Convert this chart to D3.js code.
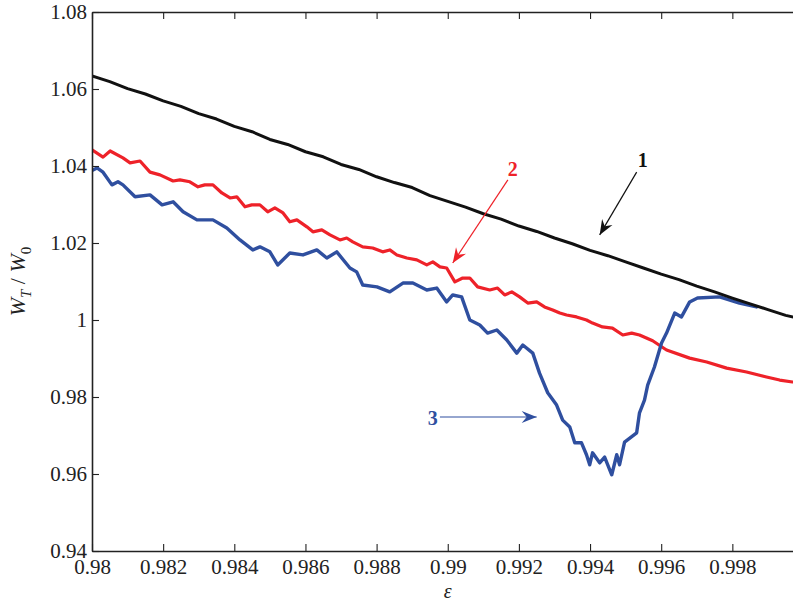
<!DOCTYPE html>
<html>
<head>
<meta charset="utf-8">
<script src="https://cdn.jsdelivr.net/npm/d3@7"></script>
<style>
  body { margin: 0; background: #fff; }
  svg { display: block; }
</style>
</head>
<body>
<svg id="chart" width="793" height="602"></svg>
<script>
// curve 1 (black), [eps, W_T/W_0]
const curve1 = [
  [0.9800, 1.0634], [0.9805, 1.0619], [0.9810, 1.0601], [0.9815, 1.0587],
  [0.9820, 1.0569], [0.9825, 1.0555], [0.9830, 1.0536], [0.9835, 1.0522],
  [0.9840, 1.0503], [0.9845, 1.0489], [0.9850, 1.0469], [0.9855, 1.0456],
  [0.9860, 1.0437], [0.9865, 1.0424], [0.9870, 1.0404], [0.9875, 1.0391],
  [0.9880, 1.0372], [0.9885, 1.0357], [0.9890, 1.0344], [0.9895, 1.0323],
  [0.9900, 1.0308], [0.9905, 1.0293], [0.9910, 1.0276], [0.9915, 1.0262],
  [0.9920, 1.0244], [0.9925, 1.0230], [0.9930, 1.0213], [0.9935, 1.0198],
  [0.9940, 1.0181], [0.9945, 1.0167], [0.9950, 1.0151], [0.9955, 1.0135],
  [0.9960, 1.0119], [0.9965, 1.0105], [0.9970, 1.0088], [0.9975, 1.0073],
  [0.9980, 1.0057], [0.9985, 1.0042], [0.9990, 1.0027], [0.9995, 1.0012],
  [0.9998, 1.0006]
];

// curve 2 (red)
const curve2 = [
  [0.98000, 1.0442], [0.98031, 1.0423], [0.98051, 1.0439], [0.98087, 1.0421],
  [0.98107, 1.0408], [0.98135, 1.0413], [0.98163, 1.0384], [0.98191, 1.0377],
  [0.98228, 1.0361], [0.98247, 1.0364], [0.98275, 1.0359], [0.98298, 1.0346],
  [0.98317, 1.0351], [0.98340, 1.0351], [0.98365, 1.0330], [0.98388, 1.0317],
  [0.98407, 1.0320], [0.98430, 1.0294], [0.98449, 1.0299], [0.98472, 1.0299],
  [0.98494, 1.0281], [0.98514, 1.0291], [0.98537, 1.0278], [0.98556, 1.0255],
  [0.98576, 1.0260], [0.98604, 1.0242], [0.98621, 1.0229], [0.98646, 1.0234],
  [0.98669, 1.0221], [0.98697, 1.0208], [0.98716, 1.0213], [0.98733, 1.0203],
  [0.98761, 1.0190], [0.98789, 1.0187], [0.98817, 1.0177], [0.98837, 1.0182],
  [0.98857, 1.0169], [0.98885, 1.0161], [0.98913, 1.0156], [0.98941, 1.0143],
  [0.98958, 1.0151], [0.98978, 1.0138], [0.98997, 1.0135], [0.99020, 1.0099],
  [0.99042, 1.0109], [0.99062, 1.0109], [0.99084, 1.0086], [0.99118, 1.0078],
  [0.99140, 1.0083], [0.99160, 1.0065], [0.99180, 1.0073], [0.99202, 1.0060],
  [0.99225, 1.0044], [0.99250, 1.0047], [0.99272, 1.0034], [0.99295, 1.0026],
  [0.99315, 1.0018], [0.99334, 1.0013], [0.99362, 1.0008], [0.99390, 1.0000],
  [0.99407, 0.9992], [0.99435, 0.9982], [0.99463, 0.9979], [0.99492, 0.9961],
  [0.99517, 0.9966], [0.99539, 0.9961], [0.99576, 0.9946], [0.99615, 0.9922],
  [0.99680, 0.9901], [0.99728, 0.9891], [0.99784, 0.9875], [0.99840, 0.9865],
  [0.99896, 0.9852], [0.99933, 0.9844], [0.99969, 0.9839]
];

// curve 3 (blue)
const curve3 = [
  [0.98000, 1.0388], [0.98014, 1.0395], [0.98031, 1.0384], [0.98056, 1.0351],
  [0.98073, 1.0359], [0.98087, 1.0351], [0.98121, 1.0320], [0.98163, 1.0325],
  [0.98197, 1.0299], [0.98228, 1.0307], [0.98256, 1.0281], [0.98295, 1.0260],
  [0.98340, 1.0260], [0.98379, 1.0239], [0.98416, 1.0208], [0.98452, 1.0182],
  [0.98472, 1.0190], [0.98500, 1.0177], [0.98522, 1.0143], [0.98556, 1.0174],
  [0.98593, 1.0169], [0.98632, 1.0182], [0.98660, 1.0161], [0.98688, 1.0177],
  [0.98725, 1.0135], [0.98744, 1.0125], [0.98761, 1.0091], [0.98801, 1.0086],
  [0.98837, 1.0073], [0.98874, 1.0096], [0.98902, 1.0096], [0.98941, 1.0078],
  [0.98969, 1.0083], [0.98997, 1.0047], [0.99014, 1.0065], [0.99039, 1.0060],
  [0.99062, 1.0000], [0.99090, 0.9987], [0.99112, 0.9966], [0.99138, 0.9974],
  [0.99166, 0.9948], [0.99194, 0.9914], [0.99211, 0.9935], [0.99239, 0.9914],
  [0.99258, 0.9862], [0.99281, 0.9811], [0.99306, 0.9779], [0.99323, 0.9740],
  [0.99343, 0.9722], [0.99357, 0.9681], [0.99376, 0.9681], [0.99390, 0.9650],
  [0.99399, 0.9624], [0.99407, 0.9655], [0.99427, 0.9629], [0.99441, 0.9644],
  [0.99461, 0.9598], [0.99475, 0.9650], [0.99483, 0.9624], [0.99497, 0.9683],
  [0.99520, 0.9699], [0.99531, 0.9707], [0.99539, 0.9759], [0.99553, 0.9792],
  [0.99562, 0.9831], [0.99581, 0.9878], [0.99601, 0.9940], [0.99615, 0.9966],
  [0.99638, 1.0018], [0.99657, 1.0008], [0.99680, 1.0047], [0.99702, 1.0057],
  [0.99764, 1.0060], [0.99820, 1.0044], [0.99868, 1.0034]
];

const xTicks = [0.98, 0.982, 0.984, 0.986, 0.988, 0.99, 0.992, 0.994, 0.996, 0.998];
const yTicks = [0.94, 0.96, 0.98, 1.0, 1.02, 1.04, 1.06, 1.08];

// annotation labels and arrows, in data units
const notes = [
  { text: "1", color: "#111111", at: [0.99548, 1.0397], from: [0.99531, 1.0384], to: [0.99427, 1.0221] },
  { text: "2", color: "#ee2229", at: [0.99183, 1.0374], from: [0.99169, 1.0364], to: [0.99014, 1.0148] },
  { text: "3", color: "#2f4f9f", at: [0.98958, 0.9727], from: [0.98978, 0.9748], to: [0.99250, 0.9748] }
];

const series = [
  { data: curve2, color: "#ee2229", width: 3.2 },
  { data: curve3, color: "#2f4f9f", width: 3.4 },
  { data: curve1, color: "#111111", width: 3 }
];

const mLeft = 92, mRight = 803.5, mTop = 12, mBottom = 551;
const fontFam = "'Liberation Serif', 'Times New Roman', serif";

const x = d3.scaleLinear().domain([0.98, 1.0]).range([mLeft, mRight]);
const y = d3.scaleLinear().domain([0.94, 1.08]).range([mBottom, mTop]);

const fmt = (d) => String(+d.toFixed(3));

const svg = d3.select("#chart");

const defs = svg.append("defs");

defs.append("clipPath")
  .attr("id", "plotclip")
  .append("rect")
  .attr("x", mLeft)
  .attr("y", mTop)
  .attr("width", mRight - mLeft)
  .attr("height", mBottom - mTop);

// arrow heads
notes.forEach((n, i) => {
  defs.append("marker")
    .attr("id", "head" + i)
    .attr("viewBox", "-16 -8 18 16")
    .attr("refX", 0)
    .attr("refY", 0)
    .attr("markerWidth", 18)
    .attr("markerHeight", 16)
    .attr("markerUnits", "userSpaceOnUse")
    .attr("orient", "auto")
    .append("path")
    .attr("d", "M0,0 L-15,-6 L-10,0 L-15,6 Z")
    .attr("fill", n.color);
});

const line = d3.line()
  .x((d) => x(d[0]))
  .y((d) => y(d[1]));

const plot = svg.append("g").attr("clip-path", "url(#plotclip)");

plot.selectAll("path.curve")
  .data(series)
  .enter()
  .append("path")
  .attr("class", "curve")
  .attr("d", (d) => line(d.data))
  .attr("fill", "none")
  .attr("stroke", (d) => d.color)
  .attr("stroke-width", (d) => d.width)
  .attr("stroke-linejoin", "round")
  .attr("stroke-linecap", "round");

// axes (box with inward ticks)
const styleAxis = (g) => {
  g.select(".domain").attr("stroke", "#222").attr("stroke-width", 1.6);
  g.selectAll(".tick line").attr("stroke", "#222").attr("stroke-width", 1.1);
  g.selectAll("text")
    .attr("fill", "#222")
    .style("font-family", fontFam)
    .style("font-size", "21px");
};

svg.append("g")
  .attr("transform", `translate(0,${mBottom})`)
  .call(d3.axisBottom(x).tickValues(xTicks).tickFormat(fmt).tickSizeInner(-7).tickSizeOuter(0).tickPadding(8))
  .call(styleAxis);

svg.append("g")
  .attr("transform", `translate(0,${mTop})`)
  .call(d3.axisTop(x).tickValues(xTicks).tickFormat("").tickSizeInner(-7).tickSizeOuter(0))
  .call(styleAxis);

svg.append("g")
  .attr("transform", `translate(${mLeft},0)`)
  .call(d3.axisLeft(y).tickValues(yTicks).tickFormat(fmt).tickSizeInner(-7).tickSizeOuter(0).tickPadding(5))
  .call(styleAxis);

svg.append("g")
  .attr("transform", `translate(${mRight},0)`)
  .call(d3.axisRight(y).tickValues(yTicks).tickFormat("").tickSizeInner(-7).tickSizeOuter(0))
  .call(styleAxis);

// annotations
notes.forEach((n, i) => {
  svg.append("line")
    .attr("x1", x(n.from[0]))
    .attr("y1", y(n.from[1]))
    .attr("x2", x(n.to[0]))
    .attr("y2", y(n.to[1]))
    .attr("stroke", n.color)
    .attr("stroke-width", 1.2)
    .attr("marker-end", `url(#head${i})`);

  svg.append("text")
    .attr("x", x(n.at[0]))
    .attr("y", y(n.at[1]))
    .attr("text-anchor", "middle")
    .attr("fill", n.color)
    .style("font-family", fontFam)
    .style("font-weight", "bold")
    .style("font-size", "20px")
    .text(n.text);
});

// axis labels
svg.append("text")
  .attr("x", (mLeft + mRight) / 2)
  .attr("y", 597.5)
  .attr("text-anchor", "middle")
  .attr("fill", "#222")
  .style("font-family", fontFam)
  .style("font-style", "italic")
  .style("font-size", "20px")
  .text("ε");

const ylab = svg.append("text")
  .attr("transform", `translate(25,${(mTop + mBottom) / 2}) rotate(-90)`)
  .attr("text-anchor", "middle")
  .attr("fill", "#222")
  .style("font-family", fontFam)
  .style("font-size", "22px");

ylab.append("tspan").style("font-style", "italic").text("W");
ylab.append("tspan").attr("dy", 6).style("font-style", "italic").style("font-size", "15px").text("T");
ylab.append("tspan").attr("dy", -6).text(" / ");
ylab.append("tspan").style("font-style", "italic").text("W");
ylab.append("tspan").attr("dy", 6).style("font-size", "15px").text("0");
</script>
</body>
</html>
